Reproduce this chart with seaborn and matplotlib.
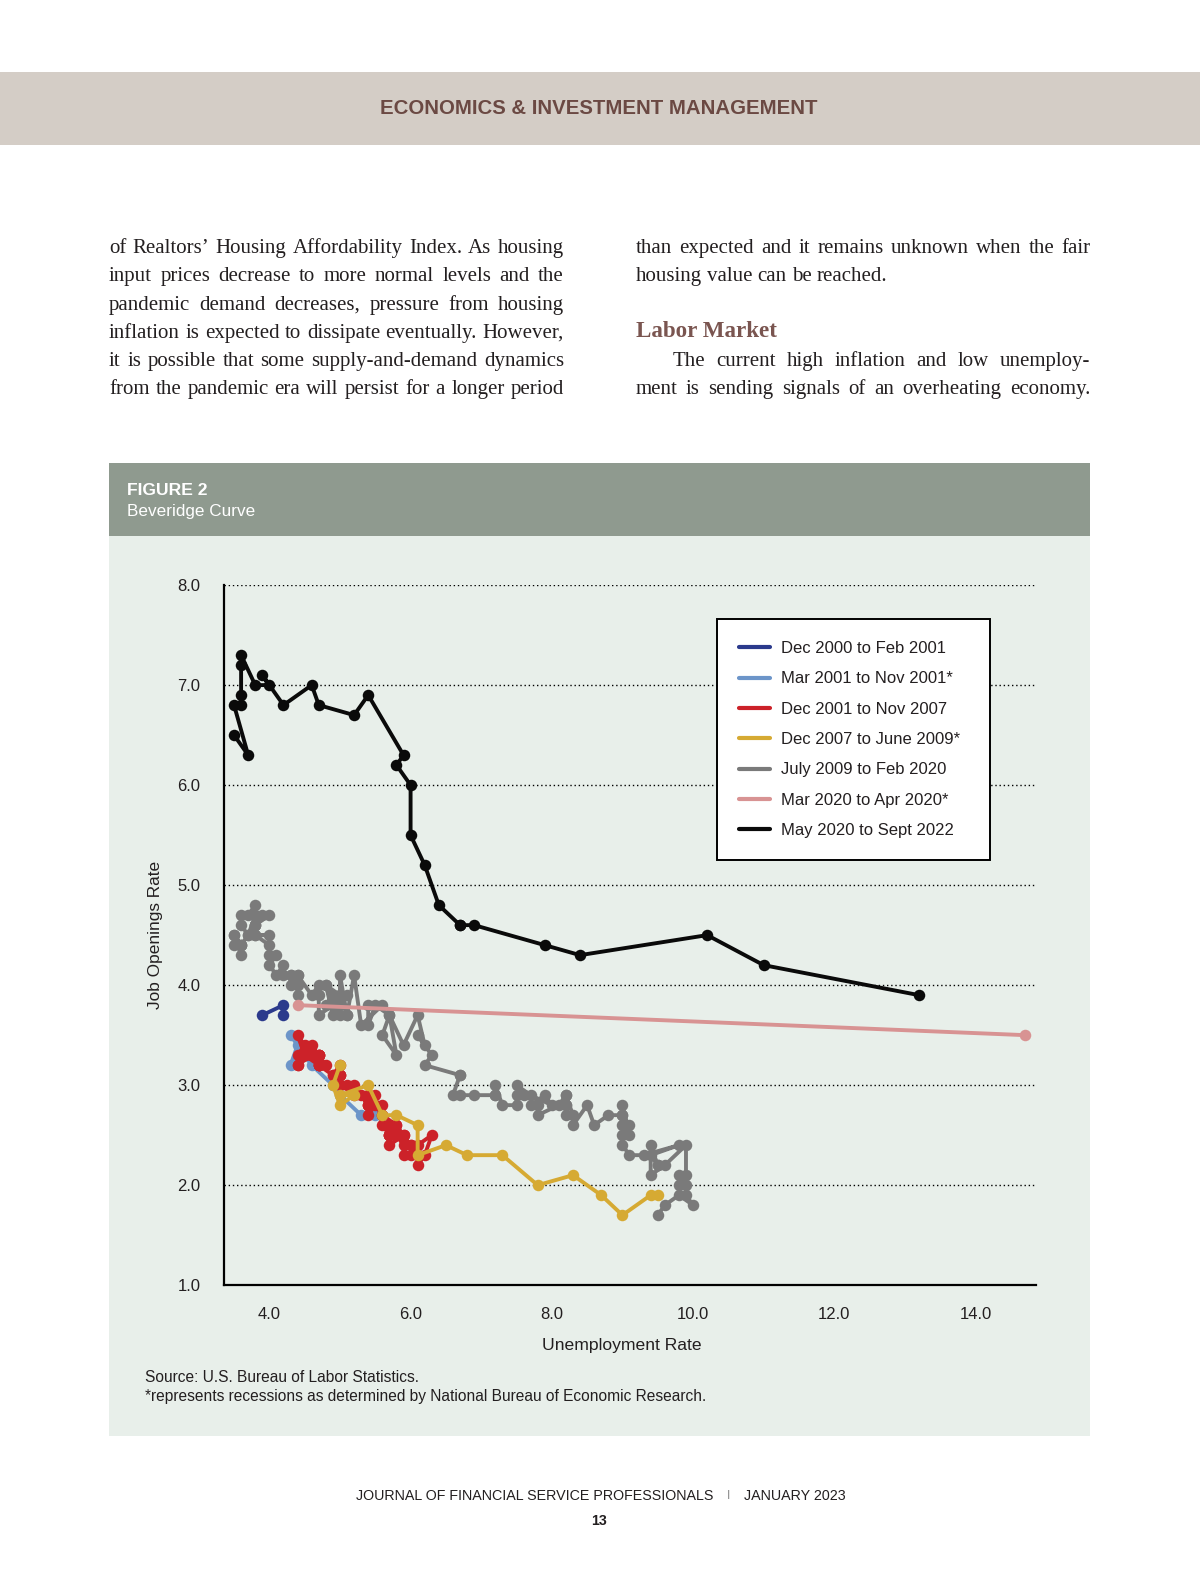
import numpy as np
import pandas as pd
import seaborn as sns
import matplotlib.pyplot as plt
from matplotlib.patches import Rectangle
from matplotlib.lines import Line2D

# page size in pixels (figure is drawn at 100 dpi)
W, H = 1200, 1582
# layout positions below are measured on a 0.9913 scaled view of the page
S = 0.9913

# Beveridge curve: monthly unemployment rate (x) and job openings rate (y)
periods = ["Dec 2000 to Feb 2001", "Mar 2001 to Nov 2001*", "Dec 2001 to Nov 2007",
           "Dec 2007 to June 2009*", "July 2009 to Feb 2020", "Mar 2020 to Apr 2020*",
           "May 2020 to Sept 2022"]
colors = ["#2B3A8C", "#6C95C9", "#CC2229", "#D6AA33", "#7A7A7A", "#D89393", "#0A0A0A"]

navy_u = [3.9, 4.2, 4.2]
navy_jo = [3.7, 3.8, 3.7]

lblue_u = [4.3, 4.4, 4.3, 4.5, 4.6, 4.9, 5.0, 5.3, 5.5]
lblue_jo = [3.5, 3.4, 3.2, 3.3, 3.2, 3.0, 2.9, 2.7, 2.7]

red_u = [5.7,
         5.7, 5.7, 5.7, 5.9, 5.8, 5.8, 5.8, 5.7, 5.7, 5.7, 5.9, 6.0,
         5.8, 5.9, 5.9, 6.0, 6.1, 6.3, 6.2, 6.1, 6.1, 6.0, 5.8, 5.7,
         5.7, 5.6, 5.8, 5.6, 5.6, 5.6, 5.5, 5.4, 5.4, 5.5, 5.4, 5.4,
         5.3, 5.4, 5.2, 5.2, 5.1, 5.0, 5.0, 4.9, 5.0, 5.0, 5.0, 4.9,
         4.7, 4.8, 4.7, 4.7, 4.6, 4.6, 4.7, 4.7, 4.5, 4.4, 4.5, 4.4,
         4.6, 4.5, 4.4, 4.5, 4.4, 4.6, 4.7, 4.6, 4.7, 4.7, 4.7]
red_jo = [2.6,
          2.6, 2.5, 2.6, 2.5, 2.6, 2.5, 2.5, 2.6, 2.5, 2.4, 2.5, 2.4,
          2.5, 2.4, 2.3, 2.3, 2.4, 2.5, 2.3, 2.2, 2.3, 2.4, 2.5, 2.5,
          2.5, 2.6, 2.6, 2.7, 2.8, 2.7, 2.8, 2.7, 2.8, 2.9, 2.8, 2.9,
          2.9, 2.8, 3.0, 2.9, 3.0, 3.0, 3.1, 3.1, 3.1, 3.1, 3.2, 3.1,
          3.2, 3.2, 3.3, 3.3, 3.4, 3.3, 3.3, 3.2, 3.3, 3.2, 3.3, 3.5,
          3.3, 3.4, 3.3, 3.3, 3.2, 3.3, 3.2, 3.3, 3.2, 3.3, 3.2]

yellow_u = [5.0, 4.9, 5.0, 5.2, 5.0, 5.4, 5.6, 5.8, 6.1, 6.1, 6.5, 6.8, 7.3, 7.8, 8.3, 8.7, 9.0, 9.4, 9.5]
yellow_jo = [3.2, 3.0, 2.8, 2.9, 2.9, 3.0, 2.7, 2.7, 2.6, 2.3, 2.4, 2.3, 2.3, 2.0, 2.1, 1.9, 1.7, 1.9, 1.9]

gray_u = [9.5, 9.6, 9.8, 10.0, 9.9, 9.9,
          9.8, 9.8, 9.9, 9.9, 9.6, 9.4, 9.4, 9.5, 9.5, 9.4, 9.8, 9.3,
          9.1, 9.0, 9.0, 9.1, 9.0, 9.1, 9.0, 9.0, 9.0, 8.8, 8.6, 8.5,
          8.3, 8.3, 8.2, 8.2, 8.2, 8.2, 8.2, 8.1, 7.8, 7.8, 7.7, 7.9,
          8.0, 7.7, 7.5, 7.6, 7.5, 7.5, 7.3, 7.2, 7.2, 7.2, 6.9, 6.7,
          6.6, 6.7, 6.7, 6.2, 6.3, 6.1, 6.2, 6.1, 5.9, 5.7, 5.8, 5.6,
          5.7, 5.5, 5.4, 5.4, 5.6, 5.3, 5.2, 5.1, 5.0, 5.0, 5.1, 5.0,
          4.8, 4.9, 5.0, 5.1, 4.8, 4.9, 4.8, 4.9, 5.0, 4.9, 4.7, 4.7,
          4.7, 4.6, 4.4, 4.4, 4.4, 4.3, 4.3, 4.4, 4.3, 4.2, 4.2, 4.1,
          4.0, 4.1, 4.0, 4.0, 3.8, 4.0, 3.8, 3.8, 3.7, 3.8, 3.8, 3.9,
          4.0, 3.8, 3.8, 3.7, 3.6, 3.6, 3.7, 3.6, 3.5, 3.6, 3.6, 3.6,
          3.5, 3.5]
gray_jo = [1.7, 1.8, 1.9, 1.8, 1.9, 2.0,
           2.1, 2.0, 2.1, 2.4, 2.2, 2.1, 2.4, 2.2, 2.2, 2.3, 2.4, 2.3,
           2.3, 2.4, 2.5, 2.6, 2.7, 2.5, 2.8, 2.6, 2.7, 2.7, 2.6, 2.8,
           2.6, 2.7, 2.9, 2.7, 2.8, 2.8, 2.9, 2.8, 2.7, 2.8, 2.8, 2.9,
           2.8, 2.9, 3.0, 2.9, 2.9, 2.8, 2.8, 3.0, 2.9, 2.9, 2.9, 2.9,
           2.9, 3.1, 3.1, 3.2, 3.3, 3.5, 3.4, 3.7, 3.4, 3.7, 3.3, 3.5,
           3.7, 3.8, 3.6, 3.8, 3.8, 3.6, 4.1, 3.7, 4.1, 3.7, 3.7, 3.9,
           4.0, 3.7, 3.8, 3.9, 3.8, 3.9, 4.0, 3.8, 3.9, 3.8, 3.7, 3.9,
           4.0, 3.9, 4.1, 3.9, 4.0, 4.1, 4.0, 4.1, 4.1, 4.1, 4.2, 4.1,
           4.2, 4.3, 4.3, 4.4, 4.5, 4.5, 4.5, 4.6, 4.5, 4.7, 4.6, 4.7,
           4.7, 4.6, 4.8, 4.7, 4.7, 4.6, 4.5, 4.4, 4.5, 4.3, 4.4, 4.4,
           4.5, 4.4]

pink_u = [4.4, 14.7]
pink_jo = [3.8, 3.5]

black_u = [13.2, 11.0, 10.2, 8.4, 7.9, 6.9, 6.7, 6.7, 6.4, 6.2, 6.0, 6.0, 5.8, 5.9, 5.4,
           5.2, 4.7, 4.6, 4.2, 3.9, 4.0, 3.8, 3.6, 3.6, 3.6, 3.6, 3.5, 3.7, 3.5]
black_jo = [3.9, 4.2, 4.5, 4.3, 4.4, 4.6, 4.6, 4.6, 4.8, 5.2, 5.5, 6.0, 6.2, 6.3, 6.9,
            6.7, 6.8, 7.0, 6.8, 7.1, 7.0, 7.0, 7.3, 7.2, 6.9, 6.8, 6.8, 6.3, 6.5]

series_u = [navy_u, lblue_u, red_u, yellow_u, gray_u, pink_u, black_u]
series_jo = [navy_jo, lblue_jo, red_jo, yellow_jo, gray_jo, pink_jo, black_jo]

frames = []
for name, u, jo in zip(periods, series_u, series_jo):
    frames.append(pd.DataFrame({"Unemployment Rate": u, "Job Openings Rate": jo, "Period": name}))
df = pd.concat(frames, ignore_index=True)

sns.set_style("ticks")
sans = ["Liberation Sans", "DejaVu Sans"]
serif = ["Liberation Serif", "DejaVu Serif"]
plt.rcParams["font.family"] = sans
ink = "#231F20"


def fx(px):
    return px / (W * S)


def fy(py):
    return 1 - py / (H * S)


fig = plt.figure(figsize=(W / 100, H / 100), dpi=100)
fig.patch.set_facecolor("white")

# page header band
fig.add_artist(Rectangle((0, fy(144)), 1, fy(71) - fy(144), transform=fig.transFigure,
                         facecolor="#D4CDC6", edgecolor="none", zorder=0))
fig.text(fx(594), fy(108), "ECONOMICS & INVESTMENT MANAGEMENT", ha="center", va="center",
         fontsize=14.7, fontweight="bold", color="#6B4943")

# body text, justified columns
renderer = fig.canvas.get_renderer()


def put_line(y, text, x0, x1, justify=True, size=15.0):
    words = text.split()
    while True:
        arts = [fig.text(0, fy(y), w, fontsize=size, family=serif, color=ink, va="baseline")
                for w in words]
        ws = [a.get_window_extent(renderer).width * S for a in arts]
        space = size * 100 / 72 * 0.25
        if justify and len(words) > 1:
            gap = (x1 - x0 - sum(ws)) / (len(words) - 1)
        else:
            gap = space
        if gap >= 3.0 or not justify:
            break
        for a in arts:
            a.remove()
        size -= 0.2
    x = x0
    for a, w in zip(arts, ws):
        a.set_position((fx(x), fy(y)))
        x += w + gap


left_lines = ["of Realtors\u2019 Housing Affordability Index. As housing",
              "input prices decrease to more normal levels and the",
              "pandemic demand decreases, pressure from housing",
              "inflation is expected to dissipate eventually. However,",
              "it is possible that some supply-and-demand dynamics",
              "from the pandemic era will persist for a longer period"]
for i, line in enumerate(left_lines):
    put_line(251 + 28 * i, line, 108, 559)

put_line(251, "than expected and it remains unknown when the fair", 630, 1081)
put_line(279, "housing value can be reached.", 630, 1081, justify=False)
fig.text(fx(630), fy(334), "Labor Market", fontsize=16.6, fontweight="bold", family=serif,
         color="#7A5550", va="baseline")
put_line(363, "The current high inflation and low unemploy-", 667, 1081)
put_line(391, "ment is sending signals of an overheating economy.", 630, 1081)

# figure box
fig.add_artist(Rectangle((fx(108), fy(531)), fx(1081) - fx(108), fy(459) - fy(531),
                         transform=fig.transFigure, facecolor="#8F9A8F", edgecolor="none", zorder=0))
fig.add_artist(Rectangle((fx(108), fy(1424)), fx(1081) - fx(108), fy(531) - fy(1424),
                         transform=fig.transFigure, facecolor="#E8EFEA", edgecolor="none", zorder=0))
fig.text(fx(126), fy(486), "FIGURE 2", fontsize=12.6, fontweight="bold", color="white", va="center")
fig.text(fx(126), fy(507), "Beveridge Curve", fontsize=12.3, color="white", va="center")

# chart
ax = fig.add_axes([fx(222), fy(1274), fx(1027) - fx(222), fy(580) - fy(1274)])
ax.patch.set_alpha(0)
sns.lineplot(data=df, x="Unemployment Rate", y="Job Openings Rate", hue="Period",
             hue_order=periods, palette=colors, sort=False, estimator=None,
             marker="o", markersize=8.3, markeredgewidth=0, linewidth=2.8,
             legend=False, ax=ax, zorder=3)

ax.set_xlim(3.357, 14.857)
ax.set_ylim(1, 8)
ax.set_xticks([4, 6, 8, 10, 12, 14])
ax.set_xticklabels([f"{v:.1f}" for v in [4, 6, 8, 10, 12, 14]])
ax.set_yticks(range(1, 9))
ax.set_yticklabels([f"{v:.1f}" for v in range(1, 9)])
ax.tick_params(axis="both", length=0, labelsize=12, colors=ink)
ax.tick_params(axis="y", pad=17)
ax.tick_params(axis="x", pad=16)
ax.grid(axis="y", color="black", linestyle=(0, (1, 2)), linewidth=1.0)
ax.set_axisbelow(True)
sns.despine(ax=ax)
for s in ["left", "bottom"]:
    ax.spines[s].set_linewidth(1.6)
    ax.spines[s].set_color("black")
    ax.spines[s].set_zorder(4)
ax.set_xlabel("Unemployment Rate", fontsize=12.6, color=ink, labelpad=11)
ax.xaxis.label.set_x((616 - 222) / (1027 - 222))
ax.set_ylabel("Job Openings Rate", fontsize=12.4, color=ink, labelpad=10)

handles = [Line2D([], [], color=c, linewidth=3) for c in colors]
leg = ax.legend(handles, periods, loc="upper left", mode="expand",
                bbox_to_anchor=(fx(711), fy(848), fx(981) - fx(711), fy(614) - fy(848)),
                bbox_transform=fig.transFigure,
                frameon=True, fancybox=False, framealpha=1, edgecolor="black",
                fontsize=12, handlelength=1.88, handletextpad=0.67,
                borderpad=1.3, labelspacing=0.92, borderaxespad=0)
leg.get_frame().set_linewidth(1.4)
for t in leg.get_texts():
    t.set_color(ink)

# source notes
fig.text(fx(144), fy(1366), "Source: U.S. Bureau of Labor Statistics.", fontsize=11.2, color=ink, va="center")
fig.text(fx(144), fy(1384), "*represents recessions as determined by National Bureau of Economic Research.",
         fontsize=11.2, color=ink, va="center")

# footer
fig.text(fx(707), fy(1483), "JOURNAL OF FINANCIAL SERVICE PROFESSIONALS", ha="right", va="center",
         fontsize=10.3, color=ink)
fig.text(fx(722), fy(1483), "I", ha="center", va="center", fontsize=8.5, color="#888888")
fig.text(fx(738), fy(1483), "JANUARY 2023", ha="left", va="center", fontsize=10.3, color=ink)
fig.text(fx(594), fy(1508), "13", ha="center", va="center", fontsize=10.3, fontweight="bold", color=ink)

fig.savefig("out.png", dpi=100)
